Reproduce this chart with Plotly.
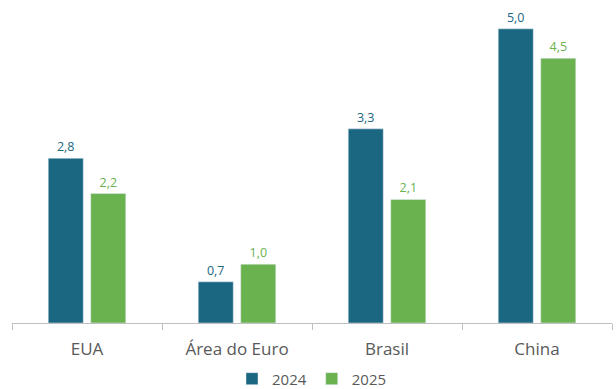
import plotly.graph_objects as go

regions = ["EUA", "Área do Euro", "Brasil", "China"]
growth_2024 = [2.8, 0.7, 3.3, 5.0]
growth_2025 = [2.2, 1.0, 2.1, 4.5]

c2024 = "#1b6680"
c2025 = "#6ab150"
font_family = "Open Sans, Lato, sans-serif"

fig = go.Figure()
fig.add_trace(go.Bar(
    name="2024", x=regions, y=growth_2024, marker_color=c2024,
    texttemplate="%{y:.1f}", textposition="outside",
    textfont=dict(color=c2024, size=12.5, family=font_family),
    cliponaxis=False,
))
fig.add_trace(go.Bar(
    name="2025", x=regions, y=growth_2025, marker_color=c2025,
    texttemplate="%{y:.1f}", textposition="outside",
    textfont=dict(color=c2025, size=12.5, family=font_family),
    cliponaxis=False,
))

fig.update_layout(
    width=616, height=389,
    margin=dict(l=12, r=4, t=0, b=66, autoexpand=False),
    barmode="group", bargap=0.433, bargroupgap=0.176,
    separators=",.",
    plot_bgcolor="white", paper_bgcolor="white",
    font=dict(family=font_family, color="#595959"),
    legend=dict(orientation="h", x=0.5, xanchor="center", y=-0.122, yanchor="top",
                font=dict(size=15, color="#595959"), itemwidth=30,
                traceorder="normal"),
    xaxis=dict(
        showline=True, linecolor="#bfbfbf", linewidth=1,
        ticks="outside", tickson="boundaries", ticklen=6, tickcolor="#bfbfbf",
        tickfont=dict(size=17, color="#595959"), ticklabelstandoff=11,
    ),
    yaxis=dict(range=[0, 5.49], visible=False, showgrid=False, zeroline=False),
    showlegend=True,
)

fig.write_html("out.html")
